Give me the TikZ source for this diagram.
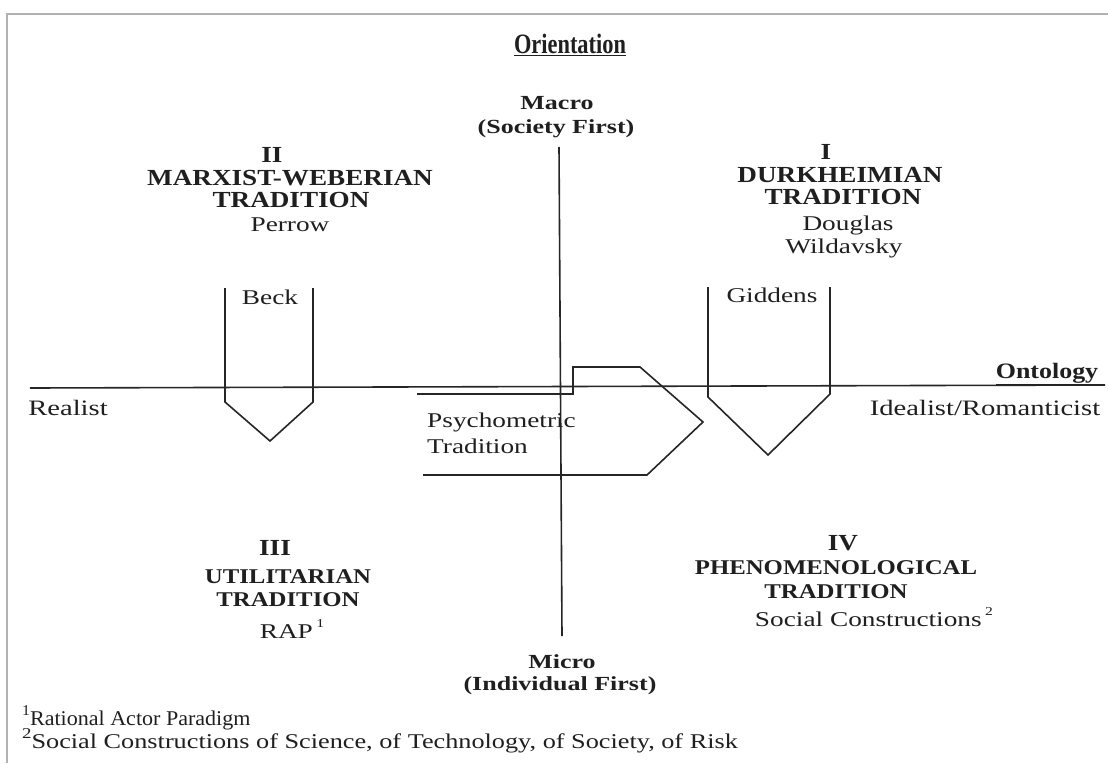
\documentclass[tikz,border=0pt]{standalone}
\usepackage{fontspec}
\setmainfont{Liberation Serif}
\newfontfamily\widefont[FakeStretch=1.18]{Liberation Serif}
\newfontfamily\wwfont[FakeStretch=1.3]{Liberation Serif}
\newfontfamily\narrowfont[FakeStretch=0.8]{Liberation Serif}
\newfontfamily\fnAfont[FakeStretch=1.05]{Liberation Serif}
\newfontfamily\fnBfont[FakeStretch=1.25]{Liberation Serif}
\begin{document}
\begin{tikzpicture}[x=1pt,y=-1pt,
  every node/.style={inner sep=0pt, text=black!88},
  hd/.style={font=\widefont\bfseries\fontsize{23}{23}\selectfont},
  hdsm/.style={font=\widefont\bfseries\fontsize{21}{21}\selectfont},
  nm/.style={font=\wwfont\fontsize{21}{21}\selectfont},
  ax/.style={font=\wwfont\bfseries\fontsize{20}{20}\selectfont},
  lbl/.style={font=\wwfont\fontsize{22}{22}\selectfont},
  ln/.style={line width=1.6pt, draw=black!85, line join=miter},
  frame/.style={line width=1.5pt, draw=black!30},
]
\useasboundingbox (0,0) rectangle (1108,763);
\fill[white] (0,0) rectangle (1108,763);
% frame
\coordinate (f1) at (7,763);
\coordinate (f2) at (7,14);
\coordinate (f3) at (1108,14);
\draw[frame] (f1) -- (f2) -- (f3);

% titles
\node (orient) at (570,45) {\narrowfont\bfseries\fontsize{28}{28}\selectfont\underline{Orientation}};
\node[ax] (macro) at (557,103) {Macro};
\node[ax] (society) at (556,129) {(Society First)};
\node[ax] (micro) at (562,662) {Micro};
\node[ax] (indiv) at (560,686) {(Individual First)};
\node (onto) at (1047,374) {\widefont\bfseries\fontsize{22}{22}\selectfont\underline{Ontology}};
\node[lbl] (realist) at (68,408) {Realist};
\node[lbl] (ideal) at (985,408) {Idealist/Romanticist};

% axes
\coordinate (vtop) at (559,147);
\coordinate (vbot) at (562,636);
\coordinate (hl) at (30,388);
\coordinate (hr) at (1105,385);
\draw[ln] (vtop) -- (vbot);
\draw[ln] (hl) -- (hr);

% quadrant II
\node[hd] (q2a) at (272,155) {II};
\node[hd] (q2b) at (290,178) {MARXIST-WEBERIAN};
\node[hd] (q2c) at (291,200) {TRADITION};
\node[nm] (q2d) at (290,225) {Perrow};

% quadrant I
\node[hd] (q1a) at (826,152) {I};
\node[hd] (q1b) at (840,175) {DURKHEIMIAN};
\node[hd] (q1c) at (843,197) {TRADITION};
\node[nm] (q1d) at (848,225) {Douglas};
\node[nm] (q1e) at (844,248) {Wildavsky};

% quadrant III
\node[hd] (q3a) at (275,548) {III};
\node[hdsm] (q3b) at (288,577) {UTILITARIAN};
\node[hdsm] (q3c) at (288,600) {TRADITION};
\node[nm] (q3d) at (292,629) {RAP\,\raisebox{0.55em}{\fontsize{12}{12}\selectfont 1}};

% quadrant IV
\node[hd] (q4a) at (843,543) {IV};
\node[hdsm] (q4b) at (836,568) {PHENOMENOLOGICAL};
\node[hdsm] (q4c) at (836,592) {TRADITION};
\node[nm] (q4d) at (874,617) {Social Constructions\,\raisebox{0.55em}{\fontsize{12}{12}\selectfont 2}};

% Beck shape
\node[nm] (beck) at (270,297) {Beck};
\coordinate (b1) at (225,288);
\coordinate (b2) at (225,402);
\coordinate (b3) at (270,441);
\coordinate (b4) at (313,402);
\coordinate (b5) at (313,288);
\draw[ln] (b1) -- (b2) -- (b3) -- (b4) -- (b5);

% Giddens shape
\node[nm] (giddens) at (772,295) {Giddens};
\coordinate (g1) at (708,287);
\coordinate (g2) at (708,397);
\coordinate (g3) at (768,455);
\coordinate (g4) at (830,394);
\coordinate (g5) at (830,287);
\draw[ln] (g1) -- (g2) -- (g3) -- (g4) -- (g5);

% Psychometric shape
\coordinate (p1) at (417,394);
\coordinate (p2) at (573,394);
\coordinate (p3) at (573,367);
\coordinate (p4) at (640,367);
\coordinate (p5) at (703,422);
\coordinate (p6) at (647,475);
\coordinate (p7) at (423,475);
\draw[ln] (p1) -- (p2) -- (p3) -- (p4) -- (p5) -- (p6) -- (p7);
\node[nm, anchor=west] (psy1) at (427,422) {Psychometric};
\node[nm, anchor=west] (psy2) at (427,446) {Tradition};

% footnotes
\node[anchor=base west, font=\fnAfont\fontsize{21}{21}\selectfont] (fn1) at (22,725) {\raisebox{0.45em}{\fontsize{15}{15}\selectfont 1}Rational Actor Paradigm};
\node[anchor=base west, font=\fnBfont\fontsize{21}{21}\selectfont] (fn2) at (22,748) {\raisebox{0.45em}{\fontsize{15}{15}\selectfont 2}Social Constructions of Science, of Technology, of Society, of Risk};
\end{tikzpicture}
\end{document}
